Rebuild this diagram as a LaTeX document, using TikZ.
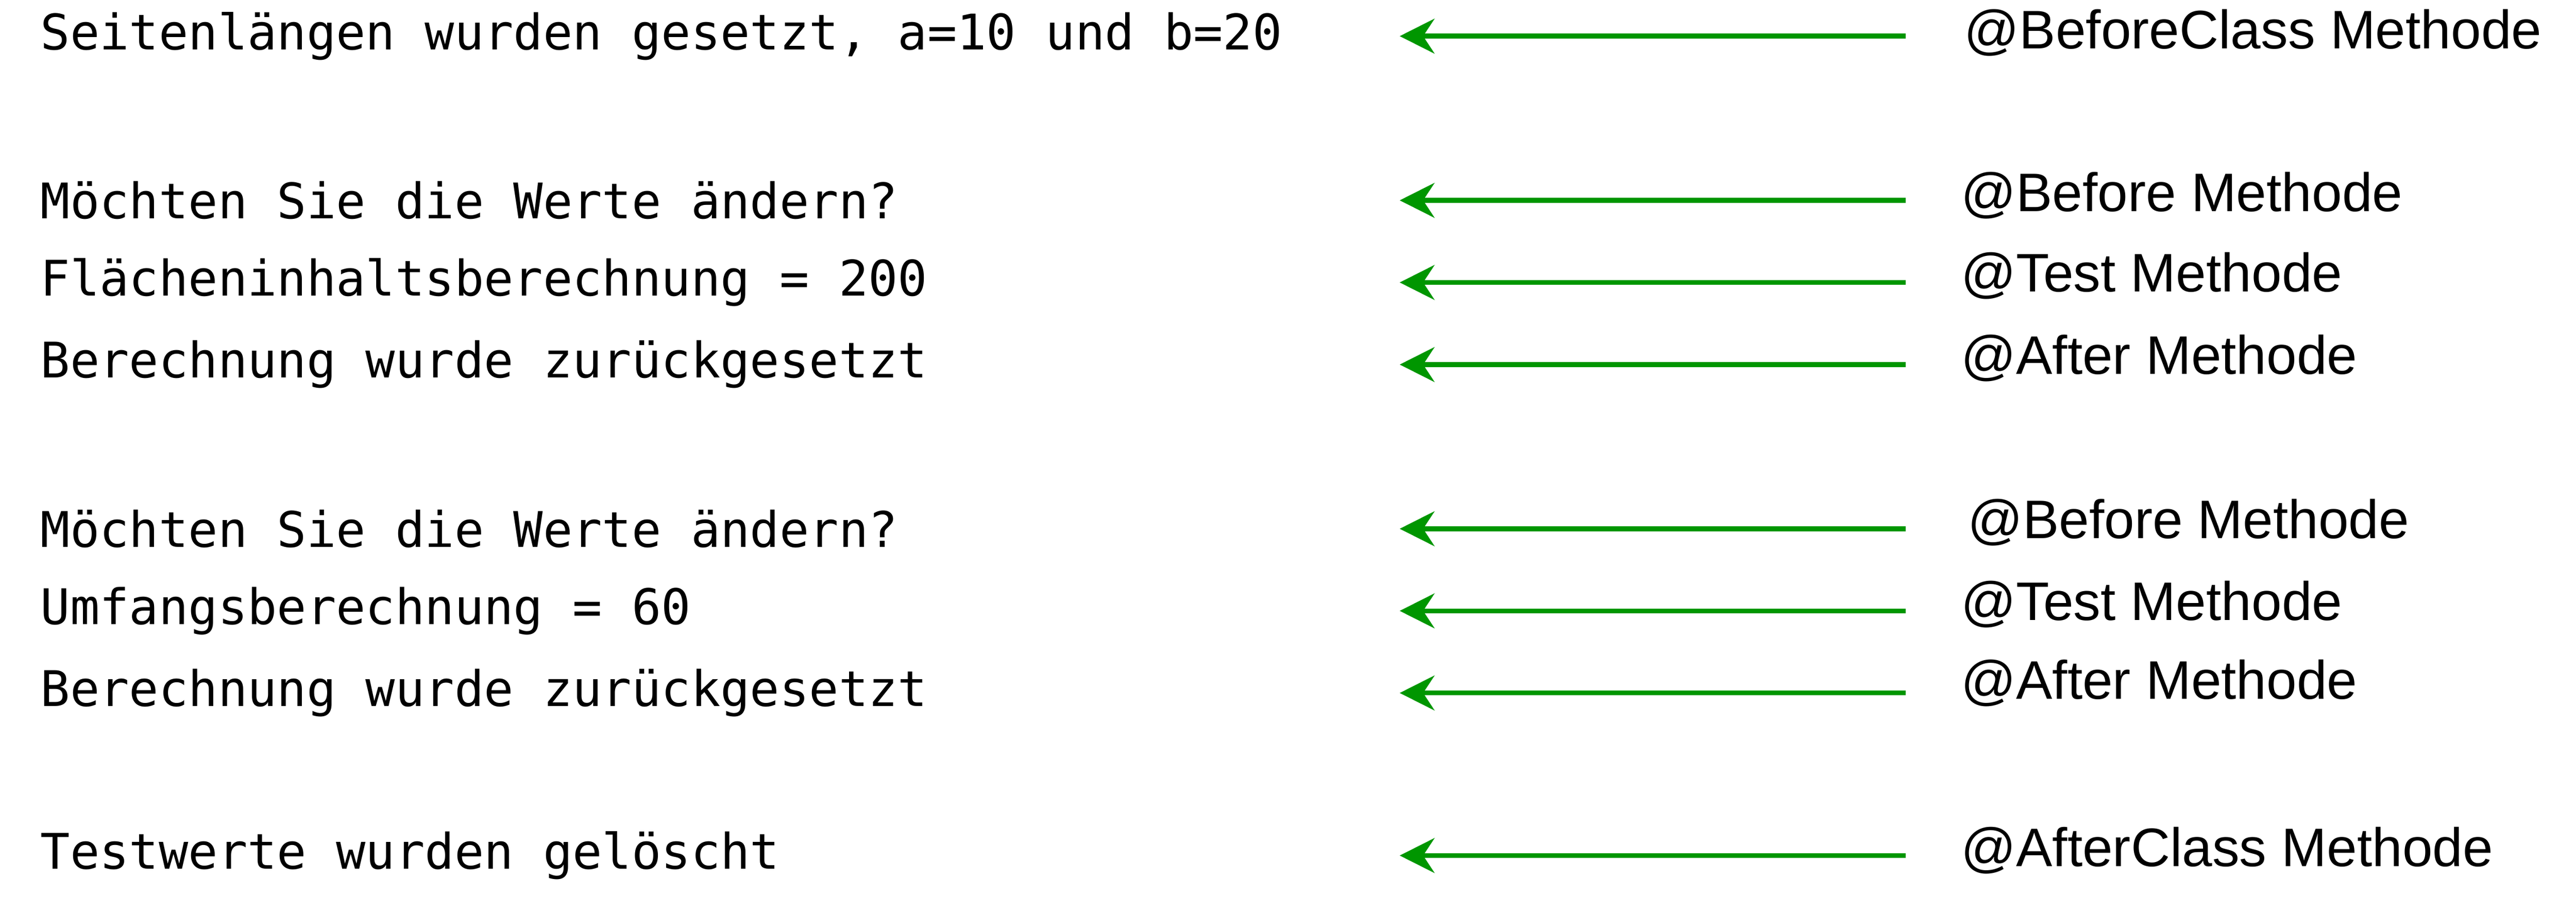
\documentclass[tikz,border=0pt]{standalone}
\usepackage{fontspec}
\setmainfont{Liberation Sans}
\newfontfamily\monof{DejaVu Sans Mono}
\usetikzlibrary{arrows.meta}
\definecolor{arrgreen}{RGB}{0,150,0}
\begin{document}
\begin{tikzpicture}[x=0.01cm,y=-0.01cm,
  outtxt/.style={anchor=west,inner sep=0,font=\monof\fontsize{8.5pt}{10pt}\selectfont},
  lbl/.style={anchor=west,inner sep=0,font=\fontsize{9.4pt}{11pt}\selectfont},
  arr/.style={draw=arrgreen,line width=0.85pt,-{Stealth[length=6pt,width=6pt]}}]
\useasboundingbox (0,0) rectangle (1568,556);
\foreach \i/\y/\t/\lx/\ly/\l in {
 1/22/{Seitenlängen wurden gesetzt, a=10 und b=20}/1195/20/{@BeforeClass Methode},
 2/122/{Möchten Sie die Werte ändern?}/1193/119/{@Before Methode},
 3/172/{Flächeninhaltsberechnung = 200}/1193/168/{@Test Methode},
 4/222/{Berechnung wurde zurückgesetzt}/1193/218/{@After Methode},
 5/322/{Möchten Sie die Werte ändern?}/1197/318/{@Before Methode},
 6/372/{Umfangsberechnung = 60}/1193/368/{@Test Methode},
 7/422/{Berechnung wurde zurückgesetzt}/1193/416/{@After Methode},
 8/521/{Testwerte wurden gelöscht}/1193/518/{@AfterClass Methode}}{
 \node[outtxt] (o\i) at (24,\y) {\t};
 \node[lbl] (l\i) at (\lx,\ly) {\l};
 \coordinate (s\i) at (1160,\y);
 \coordinate (e\i) at (852,\y);
 \draw[arr] (s\i) -- (e\i);
}
\end{tikzpicture}
\end{document}
